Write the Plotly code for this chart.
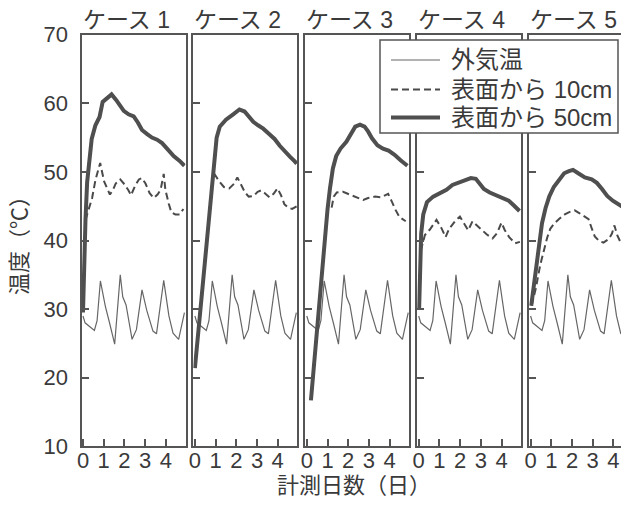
import plotly.graph_objects as go

# ---- data ----
case_titles = ["ケース 1", "ケース 2", "ケース 3", "ケース 4", "ケース 5"]
series_names = ["外気温", "表面から 10cm", "表面から 50cm"]
x_tick_vals = [0, 1, 2, 3, 4]
x_tick_text = ["0", "1", "2", "3", "4"]
y_tick_vals = [10, 20, 30, 40, 50, 60, 70]

# outside air temperature (same record in every case)
outdoor_day = [0.0, 0.1, 0.55, 0.68, 0.84, 1.08, 1.29, 1.53, 1.8, 1.92, 2.08, 2.37, 2.58,
               2.85, 3.08, 3.38, 3.55, 3.9, 4.15, 4.35, 4.62, 4.9]
outdoor_temp = [29.0, 28.0, 26.9, 28.3, 34.1, 30.4, 27.9, 24.9, 35.0, 31.8, 30.6, 25.6, 27.0,
                32.8, 29.8, 26.8, 26.4, 34.2, 29.0, 26.5, 25.6, 29.5]

# case 1
c1_10_day = [0.12, 0.32, 0.44, 0.6, 0.83, 1.02, 1.16, 1.3, 1.45, 1.58, 1.8, 2.0, 2.2, 2.32,
             2.52, 2.7, 2.85, 3.02, 3.22, 3.42, 3.6, 3.75, 3.9, 3.98, 4.14, 4.27, 4.46, 4.67, 4.85]
c1_10_temp = [43.0, 45.0, 46.2, 48.8, 51.3, 48.6, 47.6, 46.7, 47.4, 48.3, 48.9, 48.2, 47.3, 46.6,
              48.0, 48.9, 49.1, 48.3, 46.9, 46.2, 46.7, 47.4, 49.7, 47.4, 45.4, 44.1, 43.8, 43.8, 44.6]
c1_50_day = [0.0, 0.05, 0.12, 0.2, 0.3, 0.42, 0.6, 0.8, 0.95, 1.15, 1.38, 1.6, 1.8, 1.97, 2.2,
             2.45, 2.65, 2.85, 3.1, 3.33, 3.58, 3.82, 4.06, 4.38, 4.67, 4.9]
c1_50_temp = [29.5, 36.0, 43.0, 48.5, 52.0, 54.8, 56.8, 58.0, 60.2, 60.7, 61.3, 60.5, 59.5, 58.9, 58.4,
              58.1, 57.2, 56.1, 55.5, 55.0, 54.7, 54.2, 53.4, 52.3, 51.6, 50.9]

# case 2
c2_10_day = [0.92, 1.18, 1.4, 1.66, 1.9, 2.05, 2.22, 2.42, 2.6, 2.84, 3.03, 3.2, 3.38, 3.6, 3.8,
             3.99, 4.16, 4.32, 4.5, 4.7, 4.92]
c2_10_temp = [49.8, 48.6, 47.8, 47.6, 48.3, 49.2, 48.2, 47.0, 46.4, 46.5, 47.1, 47.3, 46.9, 46.3, 46.8,
              47.6, 46.6, 45.3, 44.8, 44.6, 45.0]
c2_50_day = [0.0, 0.85, 0.95, 1.05, 1.2, 1.5, 1.85, 2.15, 2.4, 2.62, 2.82, 3.05, 3.3, 3.6, 3.85,
             4.1, 4.35, 4.6, 4.8, 4.92]
c2_50_temp = [21.4, 49.5, 52.5, 55.0, 56.6, 57.6, 58.4, 59.1, 58.8, 58.0, 57.3, 56.8, 56.3, 55.5, 54.8,
              53.8, 52.9, 52.2, 51.6, 51.2]

# case 3
c3_10_day = [1.2, 1.3, 1.45, 1.75, 2.07, 2.39, 2.73, 2.96, 3.3, 3.6, 3.93, 4.12, 4.28, 4.48, 4.78]
c3_10_temp = [44.8, 46.4, 47.0, 47.1, 46.7, 46.3, 45.9, 46.2, 46.4, 46.3, 46.8, 45.6, 44.5, 43.4, 42.8]
c3_50_day = [0.2, 0.5, 0.8, 1.0, 1.12, 1.26, 1.42, 1.63, 1.91, 2.12, 2.34, 2.57, 2.79, 2.96, 3.15,
             3.41, 3.68, 3.95, 4.24, 4.53, 4.86]
c3_50_temp = [16.7, 27.5, 38.5, 44.5, 47.6, 50.5, 52.3, 53.4, 54.4, 55.6, 56.6, 56.9, 56.6, 55.9, 54.9,
              53.9, 53.4, 53.1, 52.5, 51.7, 50.9]

# case 4
c4_10_day = [0.1, 0.3, 0.54, 0.86, 1.1, 1.3, 1.47, 1.75, 1.99, 2.18, 2.39, 2.6, 2.83, 3.04, 3.28,
             3.57, 3.79, 4.0, 4.16, 4.37, 4.65, 4.89]
c4_10_temp = [38.5, 40.8, 41.6, 43.0, 41.8, 40.5, 41.7, 42.8, 43.5, 42.5, 41.5, 42.8, 42.2, 41.6, 40.9,
              40.3, 41.1, 42.6, 41.5, 40.5, 39.6, 39.8]
c4_50_day = [0.02, 0.06, 0.12, 0.22, 0.4, 0.7, 1.03, 1.34, 1.63, 1.9, 2.23, 2.52, 2.76, 2.95, 3.15,
             3.43, 3.75, 4.05, 4.35, 4.6, 4.87]
c4_50_temp = [30.0, 36.0, 41.0, 43.8, 45.6, 46.4, 47.0, 47.4, 48.1, 48.4, 48.8, 49.1, 49.0, 48.2, 47.5,
              47.0, 46.6, 46.2, 45.8, 45.1, 44.3]

# case 5
c5_10_day = [0.05, 0.25, 0.47, 0.65, 0.8, 0.95, 1.15, 1.4, 1.65, 1.92, 2.13, 2.35, 2.62, 2.8, 2.95,
             3.1, 3.32, 3.52, 3.77, 3.93, 4.05, 4.18, 4.35, 4.55, 4.77]
c5_10_temp = [30.5, 33.0, 36.5, 38.8, 40.4, 41.7, 42.5, 43.2, 43.8, 44.2, 44.4, 44.0, 43.5, 43.1, 41.8,
              40.6, 39.9, 39.7, 40.2, 41.0, 42.2, 40.8, 39.7, 39.0, 38.6]
c5_50_day = [0.03, 0.2, 0.4, 0.55, 0.72, 0.9, 1.12, 1.38, 1.62, 1.85, 2.05, 2.3, 2.62, 2.95, 3.2,
             3.45, 3.7, 3.97, 4.25, 4.5, 4.76]
c5_50_temp = [30.5, 34.5, 39.5, 42.5, 44.7, 46.4, 47.8, 48.8, 49.8, 50.1, 50.3, 49.8, 49.2, 48.9, 48.4,
              47.5, 46.5, 45.8, 45.3, 44.8, 44.2]

depth10_days = [c1_10_day, c2_10_day, c3_10_day, c4_10_day, c5_10_day]
depth10_temps = [c1_10_temp, c2_10_temp, c3_10_temp, c4_10_temp, c5_10_temp]
depth50_days = [c1_50_day, c2_50_day, c3_50_day, c4_50_day, c5_50_day]
depth50_temps = [c1_50_temp, c2_50_temp, c3_50_temp, c4_50_temp, c5_50_temp]

# ---- layout geometry (page pixels; the page body adds an 8px margin) ----
OFF = 8
W_FIG, H_FIG = 629 - OFF, 508 - OFF


def px(xp):
    return (xp - OFF) / W_FIG


def py(yp):
    return 1 - (yp - OFF) / H_FIG


panel_left = [81.5, 193.4, 305.3, 417.2, 529.1]
panel_w = 104
px_per_day = 20.7
x0_off = 1.5
y_top_px, y_bot_px = 34.7, 446.3

FONT = "Liberation Sans, Arial, Noto Sans CJK JP, sans-serif"
TXT = "#3a3a3a"
LINE = "#555555"
THIN_C, DASH_C, THICK_C = "#666666", "#4a4a4a", "#4f4f4f"
DASH = "7px,4px"

fig = go.Figure()

for k in range(5):
    xa = "x" if k == 0 else f"x{k+1}"
    ya = "y" if k == 0 else f"y{k+1}"
    fig.add_trace(go.Scatter(x=outdoor_day, y=outdoor_temp, xaxis=xa, yaxis=ya, mode="lines",
                             name=series_names[0], showlegend=False,
                             line=dict(color=THIN_C, width=1.2)))
    fig.add_trace(go.Scatter(x=depth10_days[k], y=depth10_temps[k], xaxis=xa, yaxis=ya, mode="lines",
                             name=series_names[1], showlegend=False,
                             line=dict(color=DASH_C, width=2, dash=DASH)))
    fig.add_trace(go.Scatter(x=depth50_days[k], y=depth50_temps[k], xaxis=xa, yaxis=ya, mode="lines",
                             name=series_names[2], showlegend=False,
                             line=dict(color=THICK_C, width=4)))

layout = dict(
    width=W_FIG, height=H_FIG, autosize=False,
    margin=dict(l=0, r=0, t=0, b=0, pad=0),
    paper_bgcolor="white", plot_bgcolor="white",
    font=dict(family=FONT, size=22, color=TXT),
    showlegend=False,
)

y_dom = [py(y_bot_px), py(y_top_px)]
annotations = []
for k in range(5):
    xk = "xaxis" if k == 0 else f"xaxis{k+1}"
    yk = "yaxis" if k == 0 else f"yaxis{k+1}"
    left = panel_left[k]
    right = min(left + panel_w, 629)
    r0 = -x0_off / px_per_day
    r1 = (right - left - x0_off) / px_per_day
    layout[xk] = dict(domain=[px(left), px(right)], range=[r0, r1],
                      anchor="y" if k == 0 else f"y{k+1}", automargin=False,
                      showline=True, mirror=True, linecolor=LINE, linewidth=2,
                      ticks="inside", ticklen=7, tickwidth=2, tickcolor=LINE,
                      tickvals=x_tick_vals, ticktext=x_tick_text,
                      showgrid=False, zeroline=False, ticklabelstandoff=-7,
                      tickfont=dict(size=22, color=TXT))
    layout[yk] = dict(domain=y_dom, range=[10, 70],
                      anchor="x" if k == 0 else f"x{k+1}", automargin=False,
                      showline=True, mirror=(k < 4), linecolor=LINE, linewidth=2,
                      ticks="inside", ticklen=7, tickwidth=2, tickcolor=LINE,
                      tickvals=y_tick_vals, showticklabels=(k == 0),
                      showgrid=False, zeroline=False, ticklabelstandoff=7,
                      tickfont=dict(size=22, color=TXT))
    annotations.append(dict(text=case_titles[k], xref="paper", yref="paper",
                            x=px(left - 1), y=py(20), xanchor="left", yanchor="middle",
                            showarrow=False, font=dict(size=23, color=TXT)))

annotations.append(dict(text="計測日数（日）", xref="paper", yref="paper",
                        x=px(354), y=py(485), xanchor="center", yanchor="middle",
                        showarrow=False, font=dict(size=22, color=TXT)))
annotations.append(dict(text="温度（℃）", xref="paper", yref="paper", textangle=-90,
                        x=px(20), y=py(240), xanchor="center", yanchor="middle",
                        showarrow=False, font=dict(size=22, color=TXT)))

# ---- legend box drawn as shapes + text ----
shapes = [dict(type="rect", xref="paper", yref="paper",
               x0=px(380), x1=px(618), y0=py(133), y1=py(40),
               line=dict(color=LINE, width=1.5), fillcolor="white", layer="above")]
leg_rows = [60, 89.5, 117.5]
leg_styles = [dict(color=THIN_C, width=1.2), dict(color=DASH_C, width=2, dash=DASH),
              dict(color=THICK_C, width=4)]
for name, yr, st in zip(series_names, leg_rows, leg_styles):
    shapes.append(dict(type="line", xref="paper", yref="paper",
                       x0=px(391), x1=px(440), y0=py(yr), y1=py(yr), line=st, layer="above"))
    annotations.append(dict(text=name, xref="paper", yref="paper", x=px(449), y=py(yr),
                            xanchor="left", yanchor="middle", showarrow=False,
                            font=dict(size=24, color=TXT)))

layout["annotations"] = annotations
layout["shapes"] = shapes

fig.update_layout(**layout)
fig.write_html("out.html")
